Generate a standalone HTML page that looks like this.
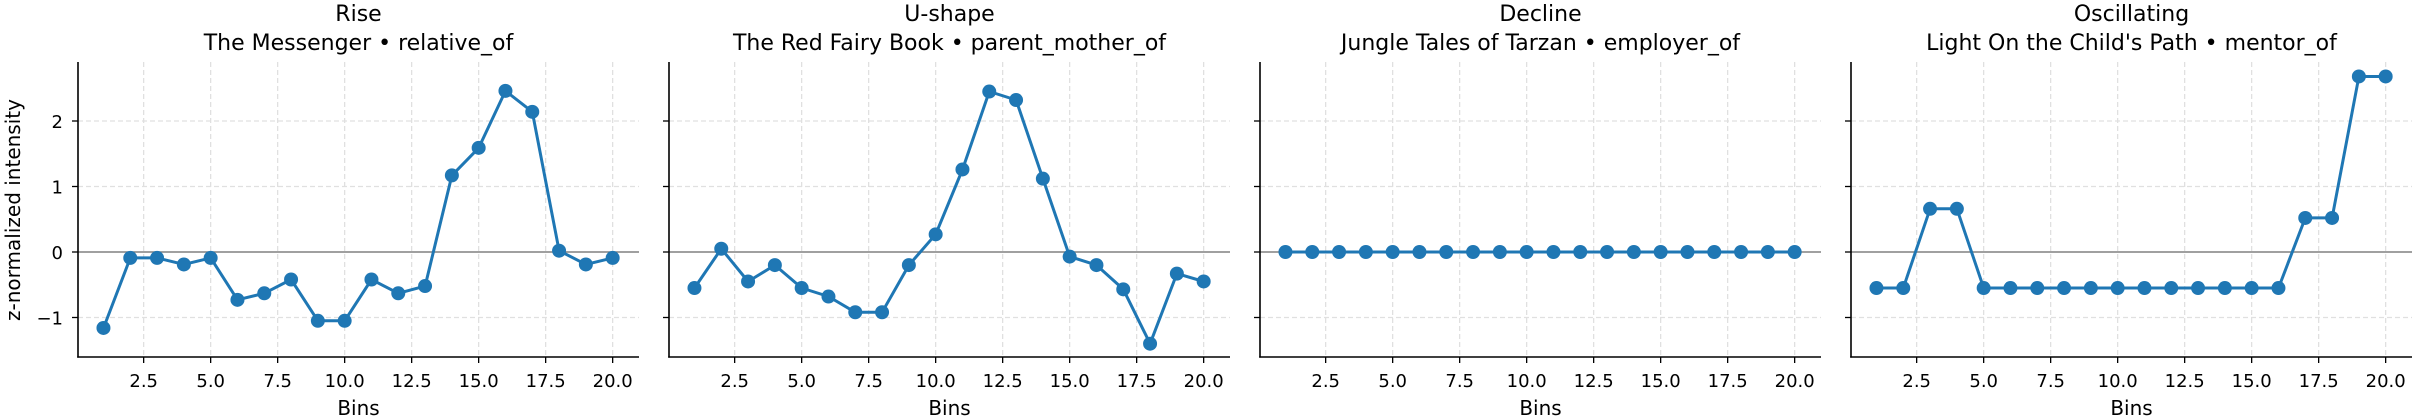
<!DOCTYPE html>
<html><head><meta charset="utf-8"><style>
html,body{margin:0;padding:0;background:#fff}
svg{display:block}
text{font-family:"DejaVu Sans","Liberation Sans",sans-serif;fill:#000}
.t{font-size:22px;text-anchor:middle}
.tk{font-size:18px}
.xl{font-size:20px;text-anchor:middle}
</style></head><body>
<svg id="s" width="2415" height="420" viewBox="0 0 2415 420" xmlns="http://www.w3.org/2000/svg">
<g id="p0" transform="translate(78,0)">
<text class="t" x="280.5" y="21">Rise</text>
<text class="t" x="280.5" y="50">The Messenger • relative_of</text>
<g class="tk" text-anchor="middle"><text x="65.7" y="387">2.5</text><text x="132.7" y="387">5.0</text><text x="199.7" y="387">7.5</text><text x="266.7" y="387">10.0</text><text x="333.7" y="387">12.5</text><text x="400.7" y="387">15.0</text><text x="467.7" y="387">17.5</text><text x="534.7" y="387">20.0</text></g>
</g>
<g id="p1" transform="translate(669,0)">
<text class="t" x="280.5" y="21">U-shape</text>
<text class="t" x="280.5" y="50">The Red Fairy Book • parent_mother_of</text>
<g class="tk" text-anchor="middle"><text x="65.7" y="387">2.5</text><text x="132.7" y="387">5.0</text><text x="199.7" y="387">7.5</text><text x="266.7" y="387">10.0</text><text x="333.7" y="387">12.5</text><text x="400.7" y="387">15.0</text><text x="467.7" y="387">17.5</text><text x="534.7" y="387">20.0</text></g>
</g>
<g id="p2" transform="translate(1260,0)">
<text class="t" x="280.5" y="21">Decline</text>
<text class="t" x="280.5" y="50">Jungle Tales of Tarzan • employer_of</text>
<g class="tk" text-anchor="middle"><text x="65.7" y="387">2.5</text><text x="132.7" y="387">5.0</text><text x="199.7" y="387">7.5</text><text x="266.7" y="387">10.0</text><text x="333.7" y="387">12.5</text><text x="400.7" y="387">15.0</text><text x="467.7" y="387">17.5</text><text x="534.7" y="387">20.0</text></g>
</g>
<g id="p3" transform="translate(1851,0)">
<text class="t" x="280.5" y="21">Oscillating</text>
<text class="t" x="280.5" y="50">Light On the Child's Path • mentor_of</text>
<g class="tk" text-anchor="middle"><text x="65.7" y="387">2.5</text><text x="132.7" y="387">5.0</text><text x="199.7" y="387">7.5</text><text x="266.7" y="387">10.0</text><text x="333.7" y="387">12.5</text><text x="400.7" y="387">15.0</text><text x="467.7" y="387">17.5</text><text x="534.7" y="387">20.0</text></g>
</g>
<g class="tk" text-anchor="end">
<text x="63" y="128">2</text><text x="63" y="193.5">1</text><text x="63" y="259">0</text><text x="63" y="324.5">−1</text>
</g>
<text class="xl" transform="translate(20,210) rotate(-90)">z-normalized intensity</text>
<g class="xl">
<text x="358.5" y="415">Bins</text><text x="949.5" y="415">Bins</text><text x="1540.5" y="415">Bins</text><text x="2131.5" y="415">Bins</text>
</g>
</svg>
<script>
var NS="http://www.w3.org/2000/svg";
var data=[
[-1.16,-0.09,-0.09,-0.19,-0.09,-0.73,-0.63,-0.42,-1.05,-1.05,-0.42,-0.63,-0.52,1.17,1.59,2.46,2.14,0.02,-0.19,-0.09],
[-0.55,0.05,-0.45,-0.2,-0.55,-0.68,-0.92,-0.92,-0.2,0.27,1.26,2.45,2.32,1.12,-0.07,-0.2,-0.57,-1.4,-0.33,-0.45],
[0,0,0,0,0,0,0,0,0,0,0,0,0,0,0,0,0,0,0,0],
[-0.55,-0.55,0.66,0.66,-0.55,-0.55,-0.55,-0.55,-0.55,-0.55,-0.55,-0.55,-0.55,-0.55,-0.55,-0.55,0.52,0.52,2.68,2.68]];
function X(v){return (v-0.05)*26.8;}
function Y(v){return 252-65.5*v;}
function el(p,n,a){var e=document.createElementNS(NS,n);for(var k in a)e.setAttribute(k,a[k]);p.appendChild(e);return e;}
var xs=[2.5,5,7.5,10,12.5,15,17.5,20];
for(var p=0;p<4;p++){
 var g=document.getElementById('p'+p);
 var grid=document.createElementNS(NS,'g');g.appendChild(grid);
 xs.forEach(function(v){el(grid,'line',{x1:X(v),x2:X(v),y1:62,y2:357,stroke:'#e0e0e0','stroke-width':1.3,'stroke-dasharray':'5,3'});
  el(grid,'line',{x1:X(v),x2:X(v),y1:357,y2:363,stroke:'#000','stroke-width':1.3});});
 [2,1,-1].forEach(function(v){el(grid,'line',{x1:0,x2:561,y1:Y(v),y2:Y(v),stroke:'#e0e0e0','stroke-width':1.3,'stroke-dasharray':'5,3'});});
 [2,1,0,-1].forEach(function(v){el(grid,'line',{x1:-6,x2:0,y1:Y(v),y2:Y(v),stroke:'#000','stroke-width':1.3});});
 el(grid,'line',{x1:0,x2:561,y1:252,y2:252,stroke:'#808080','stroke-width':1.5});
 var pts=data[p].map(function(v,i){return X(i+1).toFixed(1)+','+Y(v).toFixed(1);}).join(' ');
 el(grid,'polyline',{points:pts,fill:'none',stroke:'#1f77b4','stroke-width':3,'stroke-linejoin':'round'});
 data[p].forEach(function(v,i){el(grid,'circle',{cx:X(i+1),cy:Y(v),r:7,fill:'#1f77b4'});});
 el(grid,'line',{x1:0,x2:0,y1:62,y2:357.6,stroke:'#000','stroke-width':1.6});
 el(grid,'line',{x1:-0.8,x2:561,y1:357,y2:357,stroke:'#000','stroke-width':1.6});
}
</script>
</body></html>
